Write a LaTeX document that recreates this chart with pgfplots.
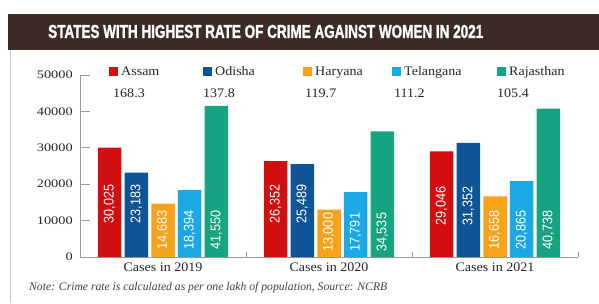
\documentclass[border=0pt]{standalone}
\usepackage{pgfplots}
\pgfplotsset{compat=1.18}
\usepackage{fontspec}
\setmainfont{Liberation Serif}
\newfontfamily\tickfont[FakeStretch=1.25]{Liberation Serif}
\newfontfamily\labfont[FakeStretch=1.08]{Liberation Serif}
\newfontfamily\barfont[FakeStretch=0.9]{Liberation Sans}
\newfontfamily\titlefont[BoldFeatures={FakeBold=1.6}]{Liberation Sans}
\definecolor{cRed}{HTML}{D20F10}
\definecolor{cBlue}{HTML}{0F5596}
\definecolor{cOrange}{HTML}{F6A21B}
\definecolor{cLight}{HTML}{1AA9E6}
\definecolor{cGreen}{HTML}{15A382}
\definecolor{cTitle}{HTML}{3D2B25}
\definecolor{cAxis}{HTML}{9A9A9A}
\newcommand\bl[4]{\node[rotate=90, text=white, font=\barfont\fontsize{14}{14}\selectfont, inner sep=0pt] at ([xshift=#2]axis cs:#1,#3) {#4};}
\begin{document}
\begin{tikzpicture}[x=1pt,y=1pt]
\useasboundingbox (0,0) rectangle (599,303);
\fill[white] (0,0) rectangle (599,303);
\draw[gray!45, line width=0.8pt] (10,0) -- (10,253);
\fill[cTitle] (8,253) rectangle (599,289);
\node[anchor=west, inner sep=0pt, text=white] at (48,271.5) {\resizebox{435pt}{13pt}{\titlefont\bfseries STATES WITH HIGHEST RATE OF CRIME AGAINST WOMEN IN 2021}};
\begin{axis}[
  at={(80pt,46pt)}, anchor=south west, scale only axis,
  width=498pt, height=182pt,
  xmin=-0.5, xmax=2.5, ymin=0, ymax=50000,
  axis x line=bottom, axis y line=left,
  axis line style={-, draw=cAxis, line width=0.8pt},
  ybar=3.2pt, bar width=23.5pt,
  ytick={0,10000,20000,30000,40000,50000},
  scaled y ticks=false,
  /pgf/number format/1000 sep={},
  /pgf/number format/assume math mode=true,
  tick align=inside, major tick length=10pt,
  tick style={draw=cAxis, line width=0.8pt},
  yticklabel style={font=\tickfont\fontsize{11.5}{11.5}\selectfont, inner sep=0pt, anchor=east, xshift=-7pt, text=black!85},
  xtick={0,1,2},
  xticklabels={Cases in 2019, Cases in 2020, Cases in 2021},
  xtick style={draw=none},
  xticklabel style={font=\labfont\fontsize{13}{13}\selectfont, inner sep=0pt, anchor=north, yshift=-6pt, text=black!85},
  extra x ticks={0.5,1.5,2.5},
  extra x tick labels={},
  extra x tick style={major tick length=5pt, xtick style={draw=cAxis, line width=0.8pt}},
]
\addplot[fill=cRed, draw=none] coordinates {(0,30025) (1,26352) (2,29046)};
\addplot[fill=cBlue, draw=none] coordinates {(0,23183) (1,25489) (2,31352)};
\addplot[fill=cOrange, draw=none] coordinates {(0,14683) (1,13000) (2,16658)};
\addplot[fill=cLight, draw=none] coordinates {(0,18394) (1,17791) (2,20865)};
\addplot[fill=cGreen, draw=none] coordinates {(0,41550) (1,34535) (2,40738)};
\bl{0}{-53.4pt}{14500}{30,025}
\bl{0}{-26.7pt}{14500}{23,183}
\bl{0}{0pt}{7400}{14,683}
\bl{0}{26.7pt}{7400}{18,394}
\bl{0}{53.4pt}{7400}{41,550}
\bl{1}{-53.4pt}{14500}{26,352}
\bl{1}{-26.7pt}{14500}{25,489}
\bl{1}{0pt}{6800}{13,000}
\bl{1}{26.7pt}{6800}{17,791}
\bl{1}{53.4pt}{6800}{34,535}
\bl{2}{-53.4pt}{14000}{29,046}
\bl{2}{-26.7pt}{14000}{31,352}
\bl{2}{0pt}{7400}{16,658}
\bl{2}{26.7pt}{7400}{20,865}
\bl{2}{53.4pt}{7400}{40,738}
\end{axis}
% legend
\begin{scope}[font=\labfont\fontsize{13}{13}\selectfont, text=black!85]
\fill[cRed] (109,227) rectangle (118,236);
\node[anchor=base west, inner sep=0pt] at (121,227) {Assam};
\node[anchor=base west, inner sep=0pt] at (113,205) {168.3};
\fill[cBlue] (203,227) rectangle (212,236);
\node[anchor=base west, inner sep=0pt] at (215,227) {Odisha};
\node[anchor=base west, inner sep=0pt] at (203,205) {137.8};
\fill[cOrange] (303,227) rectangle (312,236);
\node[anchor=base west, inner sep=0pt] at (315,227) {Haryana};
\node[anchor=base west, inner sep=0pt] at (305,205) {119.7};
\fill[cLight] (392,227) rectangle (401,236);
\node[anchor=base west, inner sep=0pt] at (404,227) {Telangana};
\node[anchor=base west, inner sep=0pt] at (394,205) {111.2};
\fill[cGreen] (497,227) rectangle (506,236);
\node[anchor=base west, inner sep=0pt] at (509,227) {Rajasthan};
\node[anchor=base west, inner sep=0pt] at (497,205) {105.4};
\end{scope}
\node[anchor=west, inner sep=0pt, text=black!75] at (29,15) {\resizebox{358pt}{!}{\itshape Note: Crime rate is calculated as per one lakh of population, Source: NCRB}};
\end{tikzpicture}
\end{document}
